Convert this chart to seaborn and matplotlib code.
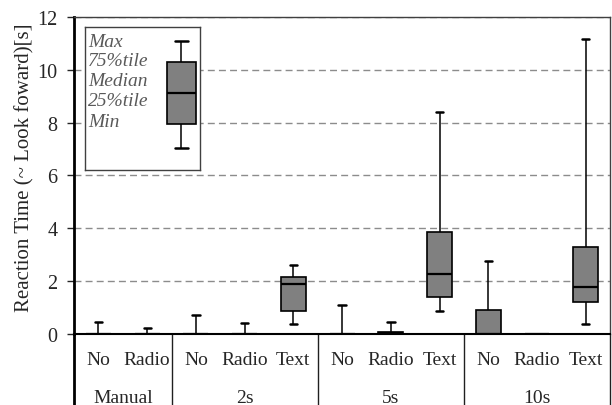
import numpy as np
import pandas as pd
import matplotlib
matplotlib.use("Agg")
import matplotlib.pyplot as plt
import matplotlib.transforms as mtransforms
import seaborn as sns

# Five-number summaries per condition
groups = ["Manual", "Manual", "2s", "2s", "2s", "5s", "5s", "5s", "10s", "10s", "10s"]
conditions = ["No", "Radio", "No", "Radio", "Text", "No", "Radio", "Text", "No", "Radio", "Text"]
mins = [0.0, 0.0, 0.0, 0.0, 0.38, 0.0, 0.0, 0.87, 0.0, 0.0, 0.38]
q1s = [0.0, 0.0, 0.0, 0.0, 0.87, 0.0, 0.0, 1.40, 0.0, 0.0, 1.20]
medians = [0.0, 0.0, 0.0, 0.0, 1.88, 0.0, 0.03, 2.27, 0.0, 0.0, 1.79]
q3s = [0.0, 0.0, 0.0, 0.0, 2.17, 0.0, 0.09, 3.84, 0.92, 0.0, 3.28]
maxs = [0.47, 0.24, 0.72, 0.43, 2.61, 1.10, 0.47, 8.40, 2.76, 0.0, 11.17]

group_names = ["Manual", "2s", "5s", "10s"]
y_ticks = [0, 2, 4, 6, 8, 10, 12]

# Key box
key_labels = ["Max", "75%tile", "Median", "25%tile", "Min"]
key_values = [7.05, 7.97, 9.13, 10.30, 11.11]

sns.set_style("white")
plt.rcParams["font.family"] = ["Liberation Serif", "DejaVu Serif"]

slots = [f"{g} {c}" for g, c in zip(groups, conditions)]
rows = []
for s, a, b, m, c, d in zip(slots, mins, q1s, medians, q3s, maxs):
    for v in (a, b, m, c, d):
        rows.append({"slot": s, "time": v})
df = pd.DataFrame(rows)

fig = plt.figure(figsize=(6.12, 4.06), dpi=100)
ax = fig.add_axes([0.121, 0.175, 0.876, 0.781])

box_kw = dict(
    color="#808080", linecolor="black", linewidth=1.2, whis=(0, 100),
    showfliers=False, saturation=1,
    medianprops={"color": "black", "linewidth": 1.6},
    capprops={"color": "black", "linewidth": 1.8},
    whiskerprops={"color": "black", "linewidth": 1.1},
)
sns.boxplot(data=df, x="slot", y="time", order=slots, width=0.51, ax=ax,
            capwidths=0.15, **box_kw)

ax.set_xlim(-0.5, len(slots) - 0.5)
ax.set_ylim(0, 12)
ax.set_yticks(y_ticks)
ax.set_yticklabels([str(t) for t in y_ticks], fontsize=14.5)
ax.set_xticks([])
ax.set_xlabel("")
ax.set_ylabel("Reaction Time (~ Look foward)[s]", fontsize=15)
ax.yaxis.set_label_coords(-0.074, 0.527)
ax.tick_params(axis="y", direction="out", length=5, width=1, pad=7, left=True)

ax.yaxis.grid(True, color="#8c8c8c", linestyle=(0, (5, 3)), linewidth=1)
ax.set_axisbelow(True)

for side in ("top", "right"):
    ax.spines[side].set_color("#404040")
    ax.spines[side].set_linewidth(1)
ax.spines["left"].set_color("black")
ax.spines["left"].set_linewidth(2)
ax.spines["bottom"].set_color("black")
ax.spines["bottom"].set_linewidth(1.5)

# Two-level category labels below the axis
trans = mtransforms.blended_transform_factory(ax.transData, ax.transAxes)
for i, c in enumerate(conditions):
    ax.text(i, -0.082, c, transform=trans, ha="center", va="center",
            fontsize=14, clip_on=False)
starts = []
for i, g in enumerate(groups):
    if i == 0 or groups[i - 1] != g:
        starts.append(i)
bounds = starts + [len(groups)]
for k, g in enumerate(group_names):
    lo, hi = bounds[k], bounds[k + 1]
    ax.text((lo + hi - 1) / 2, -0.199, g, transform=trans, ha="center",
            va="center", fontsize=14, clip_on=False)
for b in bounds:
    xline = b - 0.5
    lw = 2 if b == 0 else 1
    col = "black" if b == 0 else "#202020"
    ax.plot([xline, xline], [0, -0.26], transform=trans, color=col,
            linewidth=lw, clip_on=False)

# Key inset explaining the box elements
ins = ax.inset_axes([0.0205, 0.517, 0.2146, 0.451])
ins.set_facecolor("white")
key_df = pd.DataFrame({"k": ["key"] * len(key_values), "v": key_values})
sns.boxplot(data=key_df, x="k", y="v", width=1.0, ax=ins, capwidths=0.45,
            **box_kw)
ins.set_xlim(-3.35, 0.65)
ins.set_ylim(6.21, 11.63)
ins.set_xticks([])
ins.set_yticks([])
ins.set_xlabel("")
ins.set_ylabel("")
for sp in ins.spines.values():
    sp.set_visible(True)
    sp.set_color("#404040")
    sp.set_linewidth(1)
for lab, yb in zip(key_labels, [0.869, 0.734, 0.594, 0.455, 0.310]):
    ins.text(0.026, yb, lab, transform=ins.transAxes, ha="left",
             va="baseline", fontsize=14, style="italic", color="#595959")

fig.savefig("out.png", dpi=100)
